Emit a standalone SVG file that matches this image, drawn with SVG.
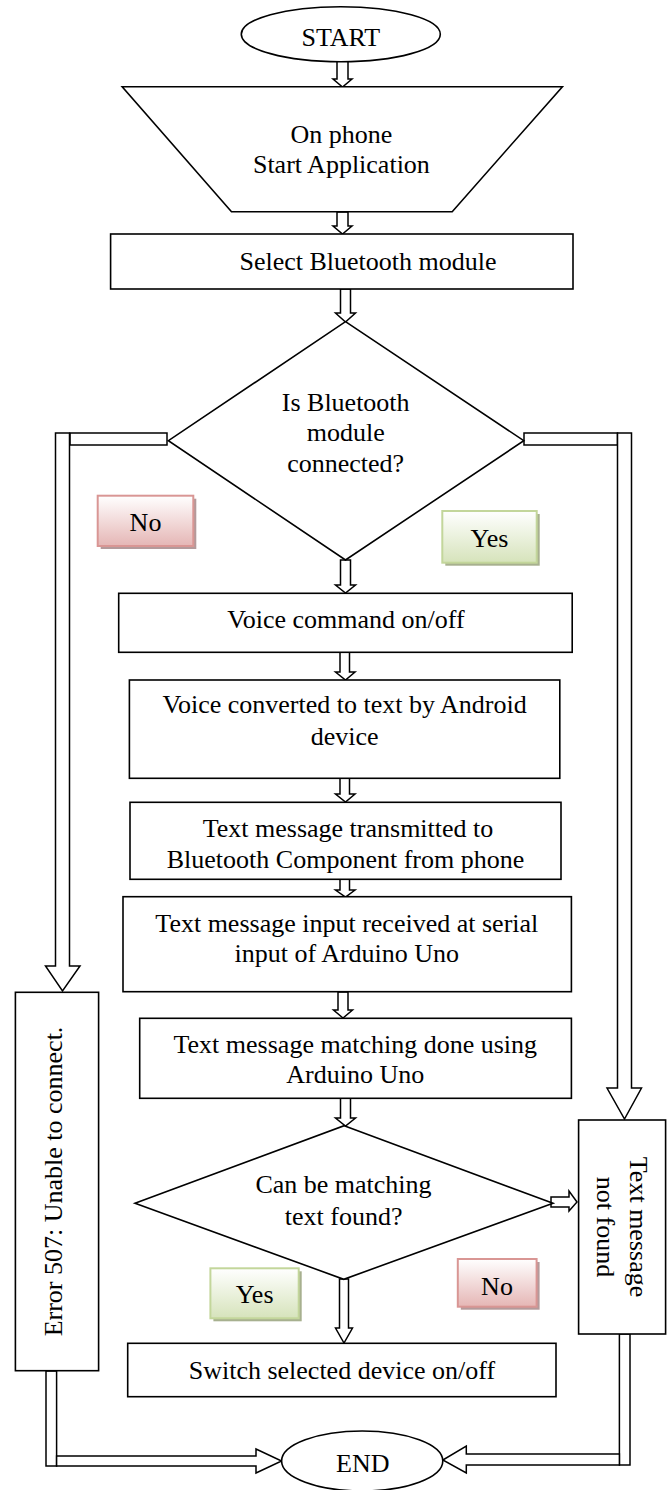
<svg xmlns="http://www.w3.org/2000/svg" width="672" height="1490" viewBox="0 0 672 1490">
<style>
.s{fill:#fff;stroke:#000;stroke-width:1.6}
.c{fill:#fff;stroke:#000;stroke-width:1.5}
.t{font-family:"Liberation Serif","Times New Roman",serif;font-size:26px;fill:#000;text-anchor:middle}
.no{fill:url(#gNo);stroke:#d99694;stroke-width:2}
.yes{fill:url(#gYes);stroke:#c3d69b;stroke-width:2}
.shNo{fill:#b49a9b}
.shYes{fill:#a7b08f}
</style>
<defs>
<linearGradient id="gNo" x1="0" y1="0" x2="0" y2="1">
<stop offset="0" stop-color="#ffffff"/><stop offset="1" stop-color="#e5b6b5"/>
</linearGradient>
<linearGradient id="gYes" x1="0" y1="0" x2="0" y2="1">
<stop offset="0" stop-color="#ffffff"/><stop offset="1" stop-color="#d6e3bb"/>
</linearGradient>
</defs>
<rect width="672" height="1490" fill="#fff"/>

<g id="connectors">
<path class="c" d="M337,61 V79 H333 L342.5,87 L352,79 H348 V61 Z"/>
<path class="c" d="M337,212 V226 H333 L342.5,234 L352,226 H348 V212 Z"/>
<path class="c" d="M340.5,289 V313 H335.5 L345.5,322 L355.5,313 H350.5 V289 Z"/>
<path class="c" d="M340.5,560 V585 H335.5 L345.5,593 L355.5,585 H350.5 V560 Z"/>
<path class="c" d="M340,652 V672 H335.5 L345.5,680 L355,672 H349.5 V652 Z"/>
<path class="c" d="M340,778 V794 H335.5 L345.5,802 L355,794 H349.5 V778 Z"/>
<path class="c" d="M340,879 V890 H335.5 L345.5,897 L355,890 H349.5 V879 Z"/>
<path class="c" d="M338,992 V1010 H333.5 L343,1018 L352.5,1010 H348 V992 Z"/>
<path class="c" d="M340.5,1098 V1118 H335.5 L345.5,1126 L355.5,1118 H350.5 V1098 Z"/>
<path class="c" d="M339.5,1279 V1328 H335.5 L344,1343 L352.5,1328 H348.5 V1279 Z"/>
<path class="c" d="M551,1197 H569 V1191 L577,1202 L569,1211 V1207 H551 Z"/>
<rect class="c" x="70" y="433" width="97" height="12"/>
<path class="c" d="M55.5,433 H69.5 V966 H80 L62.5,991 L45.5,966 H55.5 Z"/>
<rect class="c" x="524" y="433" width="93.5" height="12"/>
<path class="c" d="M617.5,433 H631.5 V1088 H641.5 L624.5,1119 L607,1088 H617.5 Z"/>
<rect class="c" x="46" y="1371" width="10.6" height="95"/>
<path class="c" d="M56.6,1456 H256 V1449 L281.6,1461 L256,1473 V1466 H56.6 Z"/>
<rect class="c" x="619.4" y="1334" width="10.6" height="131"/>
<path class="c" d="M619.4,1454 H466.3 V1446 L442.8,1460 L466.3,1473 V1465 H619.4 Z"/>
</g>

<g id="start">
<ellipse class="s" cx="340.8" cy="34.2" rx="99.5" ry="27.5"/>
<text class="t" x="340.8" y="45.7">START</text>
</g>

<g id="app">
<polygon class="s" points="122.2,86.7 562.4,86.7 452.2,211.7 231.5,211.7"/>
<text class="t" x="341.4" y="142.7">On phone</text>
<text class="t" x="341.4" y="173.3">Start Application</text>
</g>

<g id="select">
<rect class="s" x="110.6" y="234" width="462.4" height="55"/>
<text class="t" x="368" y="270">Select Bluetooth module</text>
</g>

<g id="connected">
<polygon class="s" points="345.5,321.7 523.8,440.7 345.5,560 168.4,440.7"/>
<text class="t" x="345.7" y="410.7">Is Bluetooth</text>
<text class="t" x="345.7" y="440.7">module</text>
<text class="t" x="345.7" y="472.3">connected?</text>
</g>

<g id="label-no-1">
<rect class="shNo" x="100.7" y="498.7" width="95.6" height="50.3"/>
<rect class="no" x="97.7" y="495.7" width="95.6" height="50.3"/>
<text class="t" x="145.5" y="530.7">No</text>
</g>

<g id="label-yes-1">
<rect class="shYes" x="445.3" y="514" width="94.4" height="51.7"/>
<rect class="yes" x="442.3" y="511" width="94.4" height="51.7"/>
<text class="t" x="489.5" y="546.7">Yes</text>
</g>

<g id="voice">
<rect class="s" x="118.7" y="593.3" width="453.5" height="59"/>
<text class="t" x="346" y="628">Voice command on/off</text>
</g>

<g id="convert">
<rect class="s" x="129.4" y="680" width="430.4" height="98.3"/>
<text class="t" x="344.6" y="713.3">Voice converted to text by Android</text>
<text class="t" x="344.6" y="745">device</text>
</g>

<g id="transmit">
<rect class="s" x="130" y="802.3" width="431" height="77"/>
<text class="t" x="348" y="836.7">Text message transmitted to</text>
<text class="t" x="345.5" y="867.5">Bluetooth Component from phone</text>
</g>

<g id="receive">
<rect class="s" x="123" y="896.7" width="448.4" height="95"/>
<text class="t" x="346.8" y="931.7">Text message input received at serial</text>
<text class="t" x="346.8" y="961.7">input of Arduino Uno</text>
</g>

<g id="matching">
<rect class="s" x="139.7" y="1018.3" width="431.7" height="80"/>
<text class="t" x="355.3" y="1052.7">Text message matching done using</text>
<text class="t" x="355.3" y="1083.3">Arduino Uno</text>
</g>

<g id="found">
<polygon class="s" points="344.2,1125.7 553,1203.3 343.8,1279.3 135,1203.3"/>
<text class="t" x="343.5" y="1192.5">Can be matching</text>
<text class="t" x="343.7" y="1225">text found?</text>
</g>

<g id="label-yes-2">
<rect class="shYes" x="213.4" y="1271.3" width="88.3" height="50"/>
<rect class="yes" x="210.4" y="1268.3" width="88.3" height="50"/>
<text class="t" x="254.6" y="1303.3">Yes</text>
</g>

<g id="label-no-2">
<rect class="shNo" x="460.8" y="1262" width="78.8" height="47.7"/>
<rect class="no" x="457.8" y="1259" width="78.8" height="47.7"/>
<text class="t" x="497" y="1295">No</text>
</g>

<g id="switch">
<rect class="s" x="127.7" y="1343.3" width="428.3" height="53.4"/>
<text class="t" x="341.9" y="1379">Switch selected device on/off</text>
</g>

<g id="error">
<rect class="s" x="15.4" y="992.3" width="83.2" height="378.4"/>
<text class="t" transform="translate(62,1181.5) rotate(-90)" x="0" y="0">Error 507: Unable to connect.</text>
</g>

<g id="notfound">
<rect class="s" x="578.6" y="1120" width="87" height="214"/>
<text class="t" transform="translate(630,1227) rotate(90)" x="0" y="0">Text message</text>
<text class="t" transform="translate(597,1227) rotate(90)" x="0" y="0">not found</text>
</g>

<g id="end">
<ellipse class="s" cx="362.2" cy="1461" rx="80.6" ry="30"/>
<text class="t" x="362.8" y="1471.7">END</text>
</g>
</svg>
